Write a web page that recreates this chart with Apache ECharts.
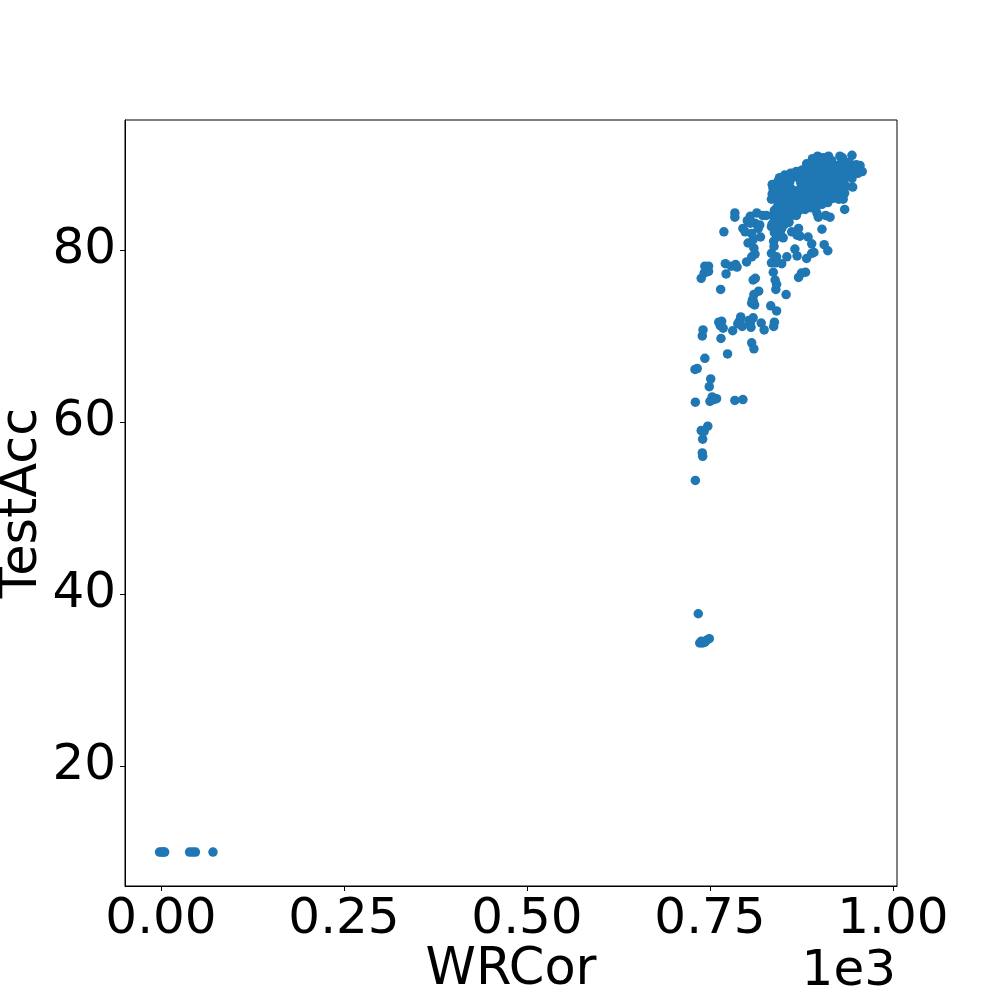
<!DOCTYPE html>
<html><head><meta charset="utf-8">
<style>html,body{margin:0;padding:0;background:#fff}#c{width:997px;height:997px}</style>
<script src="https://cdn.jsdelivr.net/npm/echarts@6/dist/echarts.min.js"></script>
</head><body><div id="c"></div>
<script>
const xTicks=[0,250,500,750,1000];
const yTicks=[20,40,60,80];
const xLabel='WRCor', yLabel='TestAcc', xOffset='1e3';
const collapsedRuns=[[-2,10],[1,10],[3,10],[5,10],[39,10],[43,10],[47,10],[71,10]];
const lowRuns=[[734,37.7],[736,34.3],[738,34.5],[740,34.3],[743,34.4],[745,34.6],[749,34.8]];
const tailRuns=[[730,53.2],[740,56],[739.5,56.4],[740,58],[738,59],[742,58.9],[747,59.5],[730,62.3],[750,62.4],[753,62.9],[759,62.7],[755,62.6],[784,62.5],[795,62.6],[749,64.1],[751,65],[729.5,66.1],[732.6,66.2],[743,67.4],[774,67.9],[739.5,70],[740.5,70.7]];
const midRuns=[[765,69.7],[762,71.6],[766,71.7],[764,71.2],[768,70.9],[781,70.6],[792,72.2],[790,71.7],[794,71.1],[788,71.4],[809,72.1],[805,71.5],[806,71],[803,71.8],[807,69.2],[810,68.5],[820,71.5],[824,70.7],[838,71.6],[837,71.1],[833,73.5],[841,72.9],[807,73.8],[811,73.6],[809,74.1],[854,74.8],[840,75.4],[839,76.5],[836.5,77.4],[841,76],[816.5,75.2],[810,74.8],[808,74.2],[764.6,75.4],[809,76.5],[812,76.7],[772,77.2],[738,76.7],[742,77.3],[748,77.5],[748,78.1],[743,78.1],[771,78.4],[779,78.1],[785,78.3],[787,78],[800,78.6],[807,79.2],[811.5,79.5],[810,80.2],[871,76.8],[875,77.3],[880.6,77.4],[834,78.5],[840,78.5],[848,78.4],[855,79.2],[834,79.6],[841,79.2],[837.5,80.4],[837,81],[866,80.1],[869,79.3],[882,79],[889,79.6],[892,79.7],[889,80.7],[884,81.5],[906,80.6],[911,79.9],[903,82.4],[769,82.1],[784,84.3],[784,83.8],[805,83.9],[814,84.3],[801,83.4],[795,82.5],[798,82.1],[802,80.8],[809,81.2],[819,81.5],[807,81.9],[816,82.5],[811.5,83.1],[805,83.1],[818,82.9],[827,84],[822,84],[934,84.7],[914,83.8],[908,84],[896,84.3],[898,83.8],[871,82.5],[869,81.7],[873,81.6],[861.6,82.1],[850,81.4],[841,81.5],[834,82.7],[841,82.4],[846,81.9],[845,83],[838,83.4],[852,83],[858,83.2],[836,84],[840,83],[848,83.4],[835,83],[842,82],[848,82.5],[843,81.9],[838,82],[855,84],[862,84],[868,84]];
const denseRuns=[[834,85.9],[835,86.5],[836,87.2],[835,87.6],[838,84.6],[841,84],[842,85],[843,85.6],[842,86.3],[841,87.1],[843,88],[845,88.4],[850,84.2],[850,85.1],[851,86],[849,86.8],[850,87.5],[851,88.2],[852,88.7],[858,84.1],[858,85],[857,85.8],[859,86.6],[857,87.4],[858,88.1],[859,88.7],[864,84.4],[865,85.3],[864,86.1],[866,86.8],[864,88.9],[860,88.9],[872,84.6],[871,85.4],[873,86.2],[872,87],[874,87.8],[873,88.5],[872,89],[880,84.7],[879,85.5],[881,86.3],[880,87.1],[882,87.9],[880,88.6],[881,89.3],[882,90],[888,84.9],[889,85.6],[887,86.4],[889,87.2],[888,88],[890,88.7],[888,89.5],[889,90.1],[890,90.6],[895,85],[896,85.8],[897,86.6],[895,87.4],[896,88.2],[897,89],[895,89.8],[896,90.5],[897,90.9],[903,85.3],[904,86.1],[903,86.9],[905,87.7],[904,88.5],[903,89.3],[905,90.1],[903,90.7],[911,85.5],[910,86.3],[912,87.1],[911,87.9],[910,88.7],[912,89.5],[911,90.2],[912,90.9],[918,86],[919,86.8],[917,87.6],[919,88.4],[918,89.2],[919,89.9],[926,85.9],[928,86.7],[926,87.5],[929,88.3],[927,89.1],[926,89.8],[927.5,90.9],[931,90.7],[930,90.2],[932,85.9],[934,86.6],[936,87.4],[934,88.3],[936,89],[935,89.8],[941,88.9],[942,89.6],[940,90.2],[945,87.3],[944,88.3],[946,89.2],[958,89.1],[955,89.8],[950,89.6],[944,91],[950,89.9],[952,88.9],
[846,86.1],[847,87.1],[846,85],[854,85.6],[853,86.5],[855,87.3],[854,88.3],[861,85.4],[862,86.4],[861,87.1],[859,87.9],[868,85.1],[869,85.9],[868,86.5],[868,89.1],[866,88.5],[871,88.4],[876,85.1],[877,85.9],[875,86.6],[877,87.5],[876,88.2],[876,89.3],[884,85.2],[885,86.1],[883,86.8],[885,87.6],[884,88.4],[885,89.2],[892,85.3],[893,86.2],[891,86.9],[892,87.8],[893,88.6],[892,89.4],[900,85.6],[899,86.5],[901,87.3],[900,88.1],[899,88.9],[901,89.7],[900,90.4],[907,85.9],[908,86.7],[907,87.5],[908,88.3],[907,89.1],[908,89.9],[907,90.7],[915,86.4],[914,87.2],[916,88],[915,88.8],[914,89.6],[916,90.4],[922,86.4],[923,87.2],[922,88],[923,88.8],[922,89.6],[930,87],[931,87.8],[930,88.7],[931,89.5]];
const points=[].concat(collapsedRuns,lowRuns,tailRuns,midRuns,denseRuns);
const font='"DejaVu Sans"';
const chart=echarts.init(document.getElementById('c'),null,{renderer:'canvas'});
chart.setOption({
  animation:false,
  backgroundColor:'#fff',
  grid:{show:true,outerBoundsMode:'none',containLabel:false,left:125,right:100,top:120,bottom:111,borderColor:'#000',borderWidth:1,backgroundColor:'transparent'},
  xAxis:{type:'value',min:-49.2,max:1005.5,splitLine:{show:false},
    name:xLabel,nameLocation:'middle',nameGap:60,nameMoveOverlap:false,
    nameTextStyle:{fontFamily:font,fontSize:51,color:'#000',verticalAlign:'top',lineHeight:50},
    axisLine:{show:true,onZero:false,lineStyle:{color:'#000',width:1}},
    axisTick:{show:true,length:5,lineStyle:{color:'#000',width:1},customValues:xTicks},
    axisLabel:{show:true,margin:9,fontFamily:font,fontSize:50,color:'#000',hideOverlap:false,showMinLabel:true,showMaxLabel:true,
      customValues:xTicks,formatter:v=>(v/1000).toFixed(2)}},
  yAxis:{type:'value',min:6.05,max:95.1,splitLine:{show:false},
    name:yLabel,nameLocation:'middle',nameGap:77,nameMoveOverlap:false,
    nameTextStyle:{fontFamily:font,fontSize:51,color:'#000'},
    axisLine:{show:true,onZero:false,lineStyle:{color:'#000',width:1}},
    axisTick:{show:true,length:5,lineStyle:{color:'#000',width:1},customValues:yTicks},
    axisLabel:{show:true,margin:9,fontFamily:font,fontSize:50,color:'#000',customValues:yTicks,formatter:v=>String(v)}},
  graphic:[{type:'text',right:101,top:947,style:{text:xOffset,fontFamily:font,fontSize:50,fill:'#000'}}],
  series:[{type:'scatter',data:points,symbol:'circle',symbolSize:9.5,itemStyle:{color:'#1f77b4',opacity:1},clip:false}]
});
</script></body></html>
